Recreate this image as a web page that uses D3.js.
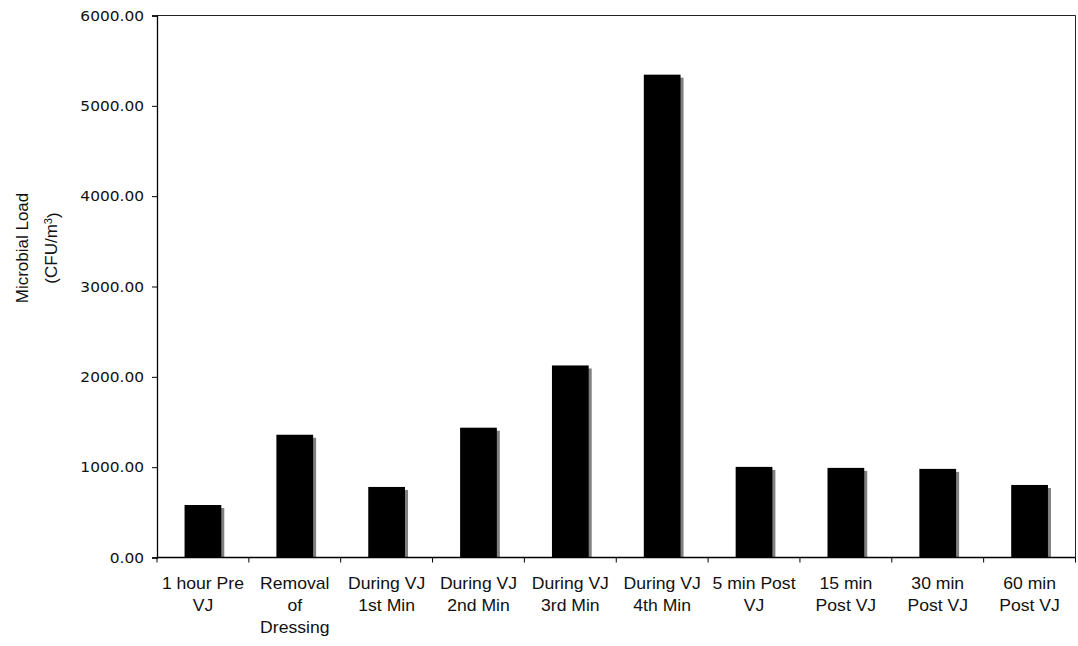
<!DOCTYPE html>
<html>
<head>
<meta charset="utf-8">
<script src="https://cdn.jsdelivr.net/npm/d3@7/dist/d3.min.js"></script>
<style>
  body { margin: 0; background: #fff; }
  svg { display: block; }
</style>
</head>
<body>
<script>
// categories (each entry is one label, split into lines)
var categories = [
  ["1 hour Pre", "VJ"],
  ["Removal", "of", "Dressing"],
  ["During VJ", "1st Min"],
  ["During VJ", "2nd Min"],
  ["During VJ", "3rd Min"],
  ["During VJ", "4th Min"],
  ["5 min Post", "VJ"],
  ["15 min", "Post VJ"],
  ["30 min", "Post VJ"],
  ["60 min", "Post VJ"]
];
// microbial load values
var values = [581, 1359, 781, 1437, 2126, 5345, 1003, 992, 981, 803];
var yTicks = [0, 1000, 2000, 3000, 4000, 5000, 6000];

var W = 1078, H = 646;
var margin = {top: 15.5, right: 2.5, bottom: 88.5, left: 157};
var width = W - margin.left - margin.right,
    height = H - margin.top - margin.bottom;

var svg = d3.select("body").append("svg")
    .attr("width", W)
    .attr("height", H);

var g = svg.append("g")
    .attr("transform", "translate(" + margin.left + "," + margin.top + ")");

var x = d3.scaleBand()
    .domain(d3.range(categories.length))
    .range([0, width])
    .padding(0);

var y = d3.scaleLinear()
    .domain([0, 6000])
    .range([height, 0]);

var barW = x.bandwidth() * 0.4;

// shadows first, then the black bars on top
g.selectAll("rect.shadow")
    .data(values)
  .enter().append("rect")
    .attr("class", "shadow")
    .attr("x", function(d, i) { return x(i) + (x.bandwidth() - barW) / 2 + 3; })
    .attr("y", function(d) { return y(d) + 3; })
    .attr("width", barW)
    .attr("height", function(d) { return Math.max(0, height - y(d) - 3); })
    .style("fill", "#808080");

g.selectAll("rect.bar")
    .data(values)
  .enter().append("rect")
    .attr("class", "bar")
    .attr("x", function(d, i) { return x(i) + (x.bandwidth() - barW) / 2; })
    .attr("y", function(d) { return y(d); })
    .attr("width", barW)
    .attr("height", function(d) { return height - y(d); })
    .style("fill", "#000");

// frame (top + right)
g.append("path")
    .attr("d", "M0,0H" + width + "V" + height)
    .style("fill", "none")
    .style("stroke", "#222")
    .style("stroke-width", 1);

// y axis
var yAxis = g.append("g")
    .call(d3.axisLeft(y).tickValues(yTicks).tickSize(5).tickFormat(""));
yAxis.select(".domain").style("stroke", "#000").style("stroke-width", 1.3);
yAxis.selectAll(".tick line").style("stroke", "#000");

// tick labels, a little stretched horizontally like the source image
g.selectAll("g.ylab")
    .data(yTicks)
  .enter().append("g")
    .attr("class", "ylab")
    .attr("transform", function(d) { return "translate(-13," + y(d) + ") scale(1.1,1)"; })
  .append("text")
    .attr("text-anchor", "end")
    .attr("dy", "0.36em")
    .style("font-family", "DejaVu Sans")
    .style("font-size", "14px")
    .style("fill", "#111")
    .text(function(d) { return d3.format(".2f")(d); });

// x axis: ticks on category boundaries
var xAxis = g.append("g")
    .attr("transform", "translate(0," + height + ")");
xAxis.append("line")
    .attr("x1", 0).attr("x2", width)
    .style("stroke", "#000").style("stroke-width", 1.3);
xAxis.selectAll("line.tk")
    .data(d3.range(categories.length + 1))
  .enter().append("line")
    .attr("class", "tk")
    .attr("x1", function(i) { return i * x.step(); })
    .attr("x2", function(i) { return i * x.step(); })
    .attr("y1", 0).attr("y2", 5)
    .style("stroke", "#000");

var catG = g.selectAll("g.cat")
    .data(categories)
  .enter().append("g")
    .attr("class", "cat")
    .attr("transform", function(d, i) {
      return "translate(" + (x(i) + x.bandwidth() / 2) + "," + (height + 31.5) + ") scale(1.1,1)";
    });

catG.selectAll("text")
    .data(function(d) { return d; })
  .enter().append("text")
    .attr("text-anchor", "middle")
    .attr("y", function(d, j) { return j * 22; })
    .style("font-family", "Liberation Sans, Arial, sans-serif")
    .style("font-size", "16px")
    .style("fill", "#111")
    .text(function(d) { return d; });

// y axis title, two lines
var title = svg.append("g")
    .attr("transform", "translate(0,248)");
title.append("text")
    .attr("transform", "translate(28,0) rotate(-90)")
    .attr("text-anchor", "middle")
    .style("font-family", "Liberation Sans, Arial, sans-serif")
    .style("font-size", "17px")
    .style("fill", "#111")
    .text("Microbial Load");
var t2 = title.append("text")
    .attr("transform", "translate(56.5,0) rotate(-90)")
    .attr("text-anchor", "middle")
    .style("font-family", "Liberation Sans, Arial, sans-serif")
    .style("font-size", "17px")
    .style("fill", "#111");
t2.append("tspan").text("(CFU/m");
t2.append("tspan").attr("dy", "-0.45em").style("font-size", "11px").text("3");
t2.append("tspan").attr("dy", "0.45em").text(")");
</script>
</body>
</html>
